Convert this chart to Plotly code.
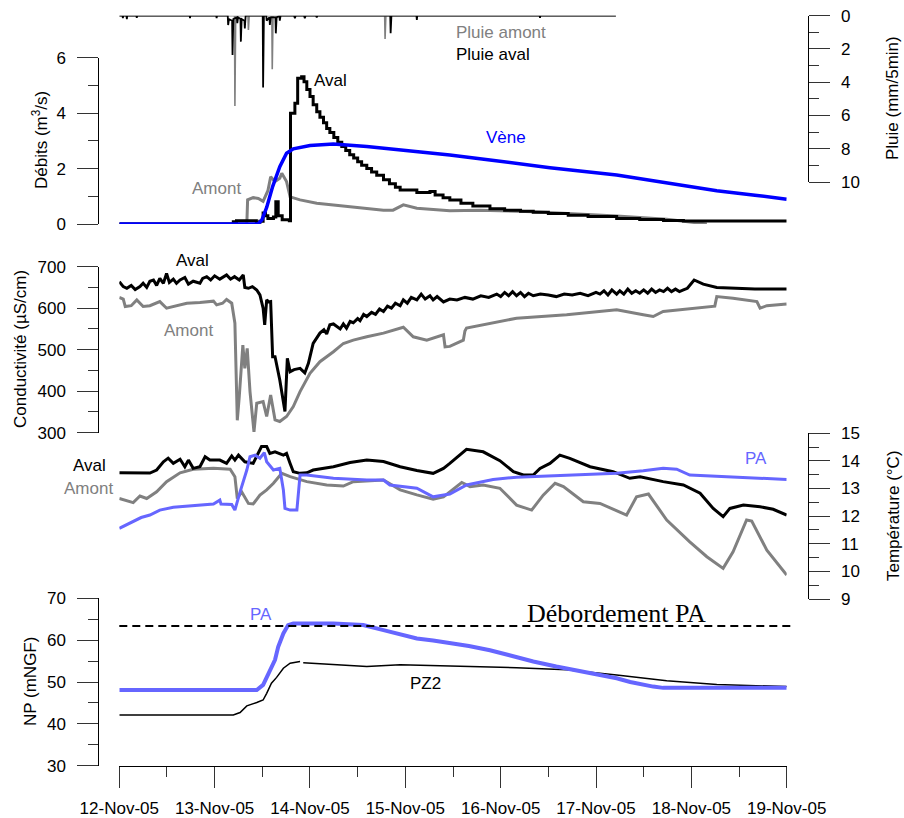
import pandas as pd
import plotly.graph_objects as go

# ---------------- DATA (time in hours after 12-Nov-2005 00:00) ----------------
BASE = "2005-11-12"
X_RANGE = ["2005-11-12", "2005-11-19"]

# Pluie (mm/5min)
pluie_aval = [(0, 0), (0.8, 0), (0.9, 0.15), (1.0, 0), (1.8, 0), (1.9, 0.2), (2.0, 0), (4.3, 0), (4.4, 0.12),
              (4.5, 0), (17.7, 0), (17.8, 0.15), (17.9, 0), (24.4, 0), (24.5, 0.15), (24.6, 0), (27.3, 0),
              (27.4, 0.56), (27.6, 0.2), (28.4, 0.3), (28.5, 2.36), (28.7, 0.2), (29.6, 0.1), (29.7, 0.45),
              (29.9, 0.1), (30.5, 0.2), (30.6, 1.56), (30.8, 0.2), (31.5, 0.3), (31.6, 0.76), (31.8, 0),
              (36.1, 0), (36.2, 4.31), (36.4, 0), (37.0, 0), (37.1, 0.3), (37.8, 0.1), (37.9, 0.56),
              (38.1, 0.1), (39.3, 0.1), (39.4, 1.06), (39.6, 0.1), (40.3, 0), (40.4, 0.3), (40.6, 0),
              (44.0, 0), (44.2, 0.15), (44.4, 0), (46.5, 0), (46.7, 0.15), (46.9, 0), (49.5, 0), (49.7, 0.1),
              (49.9, 0), (68.2, 0), (68.3, 1.06), (68.5, 0), (74.8, 0), (74.9, 0.26), (75.0, 0), (105.8, 0),
              (105.9, 0.12), (106.0, 0), (125.0, 0)]
pluie_amont = [(0, 0), (29.0, 0), (29.1, 5.43), (29.3, 0), (32.4, 0), (32.5, 0.86), (32.7, 0), (38.4, 0),
               (38.5, 3.22), (38.7, 0), (66.8, 0), (66.9, 1.40), (67.1, 0), (125.0, 0)]

# Débits (m3/s)
debit_vene = [(0, 0), (34.9, 0), (35.9, 0.15), (37.1, 0.6), (38.6, 1.35), (40.4, 2.07), (42.1, 2.55),
              (43.8, 2.71), (48.0, 2.83), (53.9, 2.89), (62.3, 2.80), (70.7, 2.68), (79.0, 2.55),
              (83.2, 2.49), (93.3, 2.31), (108.4, 2.03), (125.2, 1.77), (142.0, 1.41), (150.4, 1.20),
              (160.0, 1.04), (168.0, 0.89)]
debit_aval = [(0, 0), (28.5, 0), (28.7, 0.08), (29.5, 0.12), (33.5, 0.12), (34.5, 0.06), (35.4, 0.1),
              (36.2, 0.4), (36.8, 0.3), (37.4, 0.2), (38.8, 0.25), (39.4, 0.8), (40.0, 0.3), (41.0, 0.15),
              (42.8, 0.12), (43.1, 4.0), (44.2, 4.36), (44.9, 5.26), (45.9, 5.31), (46.5, 5.13), (47.2, 4.85),
              (48.0, 4.6), (48.8, 4.3), (49.7, 4.05), (50.5, 3.85), (51.4, 3.65), (52.2, 3.45), (53.0, 3.3),
              (54.0, 3.12), (55.0, 2.95), (56.0, 2.8), (57.0, 2.65), (58.0, 2.5), (59.0, 2.38), (60.0, 2.25),
              (61.0, 2.12), (62.3, 2.0), (63.5, 1.88), (64.8, 1.76), (66.5, 1.6), (68.0, 1.45), (69.5, 1.33),
              (70.7, 1.23), (74.9, 1.14), (78.2, 1.17), (79.5, 1.05), (81.5, 0.95), (83.2, 0.87), (86.0, 0.75),
              (89.0, 0.65), (93.3, 0.55), (97.0, 0.5), (101.0, 0.46), (104.2, 0.42), (108.0, 0.38),
              (113.0, 0.32), (118.0, 0.27), (125.2, 0.2), (131.0, 0.16), (137.0, 0.13), (142.0, 0.11),
              (168.0, 0.11)]
debit_amont = [(0, 0), (32.1, 0), (32.3, 0.87), (33.7, 0.95), (35.0, 0.92), (36.2, 0.82), (37.4, 1.2),
               (38.1, 1.7), (39.2, 1.53), (40.4, 1.65), (40.9, 1.83), (42.1, 1.53), (43.0, 0.98),
               (45.5, 0.87), (49.7, 0.75), (58.1, 0.62), (66.5, 0.5), (68.9, 0.5), (71.5, 0.69),
               (74.9, 0.57), (83.2, 0.48), (90.8, 0.5), (104.2, 0.44), (125.2, 0.29), (137.8, 0.17),
               (147.9, 0.0)]

# Conductivité (µS/cm)
cond_aval = [(0, 664), (1.0, 652), (1.9, 648), (3.0, 655), (4.0, 645), (5.2, 652), (6.0, 660), (6.9, 650),
             (7.7, 665), (8.6, 668), (9.4, 655), (10.2, 672), (11.1, 660), (11.9, 684), (12.6, 662),
             (13.6, 670), (14.4, 660), (15.3, 668), (16.5, 674), (17.4, 658), (18.6, 665), (20.3, 660),
             (21.0, 672), (22.0, 676), (23.0, 668), (24.0, 678), (25.3, 670), (27.0, 680), (28.0, 670),
             (29.0, 676), (30.2, 668), (31.2, 680), (31.6, 650), (32.5, 648), (33.5, 652), (34.6, 644),
             (35.4, 632), (36.2, 600), (36.6, 560), (37.1, 620), (37.6, 615), (38.1, 616), (38.6, 483),
             (39.2, 483), (40.4, 427), (41.1, 387), (41.7, 351), (42.3, 479), (43.0, 447), (44.0, 452),
             (45.5, 455), (46.7, 444), (47.6, 467), (48.8, 515), (50.5, 540), (51.5, 548), (52.2, 538),
             (53.0, 560), (53.9, 562), (55.6, 550), (56.4, 562), (57.2, 552), (58.1, 568), (58.9, 565),
             (60.0, 575), (60.6, 570), (61.5, 585), (62.3, 580), (63.5, 590), (64.5, 585), (65.5, 598),
             (66.5, 592), (67.5, 605), (68.5, 600), (69.5, 612), (70.7, 606), (71.5, 620), (72.5, 612),
             (73.5, 626), (74.9, 620), (76.0, 634), (77.0, 622), (78.2, 630), (79.0, 620), (80.0, 628),
             (81.6, 615), (83.2, 622), (85.0, 620), (87.0, 626), (89.0, 622), (91.0, 630), (93.0, 626),
             (95.0, 634), (96.0, 628), (97.0, 638), (98.0, 630), (99.0, 640), (100.0, 630), (101.0, 638),
             (102.0, 628), (103.0, 636), (104.2, 630), (106.0, 634), (108.0, 632), (110.0, 628),
             (112.0, 634), (114.0, 632), (116.0, 636), (118.0, 630), (120.0, 638), (121.0, 634),
             (122.0, 642), (123.0, 632), (124.0, 644), (125.2, 634), (126.0, 642), (127.0, 634),
             (128.0, 646), (129.0, 636), (130.0, 642), (131.0, 636), (132.0, 644), (133.0, 636),
             (134.0, 646), (135.0, 638), (136.0, 644), (137.0, 640), (138.0, 648), (139.0, 640),
             (140.0, 646), (141.0, 640), (142.0, 644), (143.0, 648), (144.7, 668), (147.0, 658),
             (150.4, 650), (155.0, 648), (160.0, 646), (168.0, 646)]
cond_amont = [(0, 626), (1.0, 622), (1.5, 604), (3.0, 606), (4.4, 620), (5.2, 612), (6.0, 604), (7.7, 606),
              (10.2, 616), (11.9, 600), (13.6, 604), (17.0, 612), (20.3, 614), (23.7, 617), (24.5, 608),
              (26.0, 612), (27.0, 621), (28.3, 612), (29.1, 564), (29.7, 330), (30.2, 387), (31.1, 511),
              (31.6, 455), (32.2, 503), (32.9, 399), (33.9, 302), (34.6, 371), (36.2, 375), (37.1, 339),
              (38.1, 391), (39.2, 331), (40.4, 327), (42.1, 339), (43.8, 363), (45.5, 399), (48.0, 443),
              (50.5, 471), (53.9, 495), (56.4, 515), (58.9, 523), (62.3, 531), (66.5, 540), (71.5, 554),
              (72.5, 545), (74.0, 531), (77.4, 523), (81.6, 536), (82.0, 507), (83.2, 508), (86.6, 523),
              (87.0, 545), (87.4, 552), (90.8, 558), (100.0, 576), (112.6, 584), (125.2, 596), (131.9, 584),
              (134.4, 580), (136.9, 592), (148.7, 604), (149.9, 605), (150.4, 628), (154.5, 624),
              (160.5, 616), (161.3, 600), (163.0, 606), (168.0, 610)]

# Température (°C)
temp_aval = [(0, 13.57), (3.5, 13.56), (7.7, 13.56), (9.4, 13.67), (11.1, 13.97), (12.3, 14.1), (13.6, 13.91),
             (15.3, 14.06), (16.5, 13.79), (17.4, 14.03), (18.6, 13.73), (20.3, 13.79), (21.6, 14.15),
             (22.8, 14.03), (25.3, 14.03), (27.0, 13.91), (28.3, 14.18), (29.1, 14.03), (30.0, 14.21),
             (31.6, 13.97), (33.7, 13.91), (35.8, 14.52), (37.1, 14.52), (37.9, 14.27), (39.2, 14.33),
             (41.3, 14.21), (42.1, 14.27), (43.0, 13.91), (43.8, 13.61), (45.5, 13.55), (47.2, 13.57),
             (48.8, 13.67), (53.9, 13.79), (58.1, 13.94), (62.3, 14.03), (66.5, 13.98), (70.7, 13.79),
             (74.9, 13.65), (79.0, 13.55), (81.6, 13.73), (83.2, 13.91), (87.4, 14.42), (91.6, 14.33),
             (95.8, 14.01), (99.2, 13.61), (101.7, 13.49), (104.2, 13.49), (105.9, 13.73), (108.4, 13.91),
             (110.9, 14.21), (113.4, 14.09), (118.5, 13.79), (124.3, 13.61), (128.5, 13.37), (131.1, 13.43),
             (136.9, 13.25), (142.0, 13.13), (146.2, 12.83), (149.5, 12.28), (152.0, 11.98), (153.7, 12.28),
             (157.1, 12.40), (161.3, 12.34), (164.6, 12.25), (168.0, 12.04)]
temp_amont = [(0, 12.64), (3.5, 12.49), (5.2, 12.73), (6.9, 12.64), (9.4, 12.88), (11.9, 13.25), (15.3, 13.57),
              (18.6, 13.70), (23.7, 13.73), (27.9, 13.70), (29.1, 13.43), (29.7, 12.64), (30.8, 12.88),
              (32.5, 12.46), (33.7, 12.44), (35.4, 12.76), (37.1, 12.95), (38.8, 13.19), (40.9, 13.55),
              (43.0, 13.43), (47.2, 13.25), (52.2, 13.13), (56.4, 13.09), (58.9, 13.25), (66.5, 13.31),
              (70.7, 12.95), (74.9, 12.77), (79.0, 12.61), (81.6, 12.70), (83.2, 12.88), (86.2, 13.22),
              (88.3, 13.07), (91.6, 13.13), (95.8, 13.01), (100.0, 12.40), (103.8, 12.22), (106.7, 12.76),
              (109.7, 13.19), (111.8, 13.07), (116.8, 12.52), (121.0, 12.46), (127.7, 12.04), (130.2, 12.70),
              (133.2, 12.80), (137.8, 11.86), (143.6, 11.07), (147.9, 10.53), (152.0, 10.11), (154.5, 10.71),
              (157.9, 11.86), (159.2, 11.82), (163.0, 10.77), (168.0, 9.87)]
temp_pa = [(0, 11.56), (2.0, 11.70), (3.5, 11.80), (5.5, 11.95), (7.7, 12.04), (10.2, 12.22), (13.6, 12.32),
           (18.6, 12.37), (23.7, 12.44), (25.3, 12.58), (25.6, 12.44), (28.3, 12.42), (29.1, 12.22),
           (30.4, 12.88), (32.1, 13.67), (32.9, 14.15), (34.2, 14.21), (35.4, 14.10), (36.5, 14.30),
           (37.1, 13.97), (38.8, 13.67), (40.4, 13.73), (41.3, 12.95), (41.7, 12.28), (43.0, 12.22),
           (44.7, 12.22), (45.5, 13.49), (47.2, 13.49), (53.9, 13.37), (62.3, 13.31), (66.5, 13.31),
           (68.1, 13.13), (74.9, 13.01), (79.0, 12.70), (83.2, 12.80), (87.4, 13.13), (91.6, 13.25),
           (94.1, 13.33), (100.0, 13.41), (116.8, 13.49), (125.2, 13.55), (131.9, 13.64), (136.9, 13.73),
           (140.3, 13.70), (143.6, 13.49), (168.0, 13.33)]

# NP (mNGF)
np_pa = [(0, 48.1), (34.6, 48.1), (36.2, 49.3), (37.9, 52.5), (39.2, 55.3), (40.0, 58.4), (41.3, 61.6),
         (42.5, 63.6), (43.8, 64.0), (53.9, 64.0), (61.4, 63.6), (66.5, 62.4), (70.7, 61.5), (74.9, 60.4),
         (79.0, 59.9), (83.2, 59.4), (88.0, 58.6), (93.3, 57.6), (98.7, 56.2), (104.2, 54.9), (110.0, 53.7),
         (116.8, 52.5), (120.9, 51.7), (125.2, 50.9), (128.6, 50.0), (131.9, 49.3), (134.4, 48.9),
         (136.9, 48.6), (168.0, 48.6)]
np_pz2 = [(0, 42.1), (28.7, 42.1), (30.4, 42.7), (32.1, 44.3), (34.6, 45.1), (36.2, 45.7), (37.1, 47.3),
          (38.3, 49.7), (39.6, 51.1), (41.3, 53.3), (43.0, 54.5), (45.5, 54.9), (45.6, None), (46.3, 54.6),
          (53.9, 54.1), (62.3, 53.7), (70.7, 54.1), (83.2, 53.8), (100.0, 53.4), (112.6, 52.9),
          (125.2, 51.7), (137.8, 50.3), (150.4, 49.4), (168.0, 48.9)]
debordement_pa = 63.4

# ---------------- FIGURE ----------------
W, H = 904, 818
FONT = "Liberation Sans, Arial, sans-serif"
GRAY = "#808080"
PA_BLUE = "#6666FF"
VENE_BLUE = "#0000FF"
base = pd.Timestamp(BASE)


def xy(pairs):
    hrs = [p[0] for p in pairs]
    vals = [p[1] for p in pairs]
    return list(base + pd.to_timedelta(hrs, unit="h")), vals


def px_x(p):
    return p / W


def px_y(p):
    return 1 - p / H


fig = go.Figure()


def line(pairs, yax, color, width, shape="linear"):
    x, y = xy(pairs)
    fig.add_trace(go.Scatter(x=x, y=y, xaxis="x", yaxis=yax, mode="lines",
                             line=dict(color=color, width=width, shape=shape),
                             showlegend=False, hoverinfo="skip"))


# Rain
line(pluie_amont, "y2", GRAY, 1.6)
line(pluie_aval, "y2", "black", 1.8)
# Débits
line(debit_amont, "y", GRAY, 3)
line(debit_aval, "y", "black", 3, shape="hv")
line(debit_vene, "y", VENE_BLUE, 3.5)
# Conductivité
line(cond_amont, "y3", GRAY, 3)
line(cond_aval, "y3", "black", 3)
# Température
line(temp_amont, "y4", GRAY, 3)
line(temp_aval, "y4", "black", 3)
line(temp_pa, "y4", PA_BLUE, 3)
# NP
line(np_pz2, "y5", "black", 1.5)
line(np_pa, "y5", PA_BLUE, 4)

LEFT_POS = px_x(98.3)
RIGHT_POS = px_x(807.7)
TICKC = "#333333"


def yaxis(dom_top, dom_bot, rng, dtick, minor, side, pos):
    return dict(domain=[px_y(dom_bot), px_y(dom_top)], range=rng, anchor="free", position=pos,
                side=side, showline=True, linecolor="black", linewidth=1, ticks="outside",
                ticklen=21, tickwidth=1, tickcolor=TICKC, dtick=dtick, tick0=0,
                minor=dict(dtick=minor, ticklen=10, ticks="outside", tickcolor=TICKC, tickwidth=1),
                showgrid=False, zeroline=False, tickfont=dict(family=FONT, size=17, color="black"),
                ticklabelstandoff=8, fixedrange=True, automargin=False)


layout = dict(
    width=W, height=H, autosize=False,
    margin=dict(l=0, r=0, t=0, b=0, pad=0, autoexpand=False),
    paper_bgcolor="white", plot_bgcolor="rgba(0,0,0,0)",
    showlegend=False,
    xaxis=dict(type="date", range=X_RANGE, domain=[px_x(119.3), px_x(786.7)], anchor="y5",
               showline=True, linecolor="black", linewidth=1, ticks="outside", ticklen=21,
               tickcolor=TICKC, dtick=86400000, tick0=BASE, tickformat="%d-%b-%y",
               minor=dict(dtick=43200000, ticklen=10, ticks="outside", tickcolor=TICKC),
               showgrid=False, zeroline=False, tickfont=dict(family=FONT, size=17, color="black"),
               ticklabelstandoff=6, fixedrange=True, automargin=False),
    yaxis=yaxis(57.7, 224, [0, 6], 2, 1, "left", LEFT_POS),
    yaxis2=yaxis(15.7, 182, [10, 0], 2, 1, "right", RIGHT_POS),
    yaxis3=yaxis(266.7, 432.7, [300, 700], 100, 50, "left", LEFT_POS),
    yaxis4=yaxis(433.3, 599, [9, 15], 1, 0.5, "right", RIGHT_POS),
    yaxis5=yaxis(598.3, 765.7, [30, 70], 10, 5, "left", LEFT_POS),
)
fig.update_layout(**layout)

fig.add_shape(type="line", xref="paper", yref="y5", x0=px_x(119.3), x1=px_x(793),
              y0=debordement_pa, y1=debordement_pa, line=dict(color="black", width=2, dash="8px,5px"))


def ann(text, x, y, color="black", size=17, xanchor="center", angle=0, family=FONT):
    fig.add_annotation(text=text, x=px_x(x), y=px_y(y), xref="paper", yref="paper", showarrow=False,
                       xanchor=xanchor, yanchor="middle", textangle=angle,
                       font=dict(family=family, size=size, color=color))


# Series labels
ann("Aval", 330, 80)
ann("Amont", 216, 189, GRAY)
ann("Vène", 506, 137, VENE_BLUE)
ann("Pluie amont", 454, 33, GRAY, xanchor="left")
ann("Pluie aval", 454, 54, xanchor="left")
ann("Aval", 192.5, 260)
ann("Amont", 188, 330, GRAY)
ann("Aval", 108, 465, xanchor="right")
ann("Amont", 115, 488, GRAY, xanchor="right")
ann("PA", 756, 458, PA_BLUE)
ann("PA", 261, 614, PA_BLUE)
ann("PZ2", 425, 683)
ann("Débordement PA", 616, 613, size=26, family="Liberation Serif, Times New Roman, serif")

# Axis titles
ann("Débits (m<sup>3</sup>/s)", 40, 140, angle=-90)
ann("Conductivité (µS/cm)", 20, 349, angle=-90)
ann("NP (mNGF)", 30, 682, angle=-90)
ann("Pluie (mm/5min)", 893, 98, angle=-90)
ann("Température (°C)", 893, 516, angle=-90)

fig.write_html("out.html", config={"displayModeBar": False, "staticPlot": True},
               post_script="document.body.style.margin='0px';document.body.style.overflow='hidden';")
